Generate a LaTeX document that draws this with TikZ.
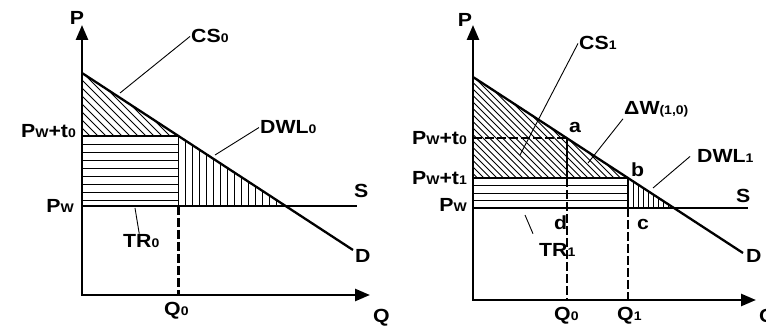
\documentclass[tikz,border=0pt]{standalone}
\usepackage{fontspec}
\setmainfont{Liberation Sans}[FakeStretch=1.12]
\usetikzlibrary{arrows.meta}
\newcommand{\sbs}[1]{{\fontsize{12.5}{12.5}\selectfont #1}}
\tikzset{
  axis/.style={line width=2.6pt, line join=miter,
    {Triangle[length=15pt,width=12pt]}-{Triangle[length=15pt,width=12pt]}},
  curve/.style={line width=2.3pt},
  level/.style={line width=1.8pt},
  guide/.style={line width=2.2pt, dash pattern=on 9pt off 3pt},
  hatch/.style={line width=0.8pt},
  leader/.style={line width=0.9pt},
  lbl/.style={font=\bfseries\fontsize{19}{22}\selectfont, inner sep=1pt},
}

\begin{document}
\begin{tikzpicture}[x=1pt, y=-1pt]
\useasboundingbox (0,0) rectangle (766,331);

% ---------------- left panel: tariff t0 ----------------
\coordinate (ptop0) at (82,25);
\coordinate (O0) at (82,295);
\coordinate (qend0) at (370,295);
\coordinate (dtop0) at (82,73);
\coordinate (dend0) at (353,250);
\coordinate (pt0) at (82,136);
\coordinate (pw0) at (82,206);
\coordinate (e0) at (178.5,136);
\coordinate (f0) at (178.5,206);
\coordinate (q0) at (178.5,295);
\coordinate (m0) at (285.6,206);
\coordinate (s0) at (357,206);

% hatching
\begin{scope}
  \clip (dtop0) -- (e0) -- (pt0) -- cycle;
  \foreach \c in {-70,-62,...,120} \draw[hatch] (\c,0) -- ++(300,300);
\end{scope}
\begin{scope}
  \clip (e0) -- (m0) -- (f0) -- cycle;
  \foreach \x in {185,192,...,285} \draw[hatch] (\x,130) -- (\x,210);
\end{scope}
\begin{scope}
  \clip (pt0) rectangle (f0);
  \foreach \y in {144,152,...,200} \draw[hatch] (80,\y) -- (180,\y);
\end{scope}

\draw[level] (pt0) -- (e0) -- (f0);
\draw[guide] (f0) -- (q0);
\draw[curve] (pw0) -- (s0);
\draw[curve] (dtop0) -- (dend0);
\draw[axis] (ptop0) -- (O0) -- (qend0);

\node[lbl, anchor=base] (p0) at (77,25) {P};
\node[lbl, anchor=base west] (q0lab) at (372,322) {Q};
\node[lbl, anchor=base west] (qa0) at (163,315) {Q\sbs{0}};
\node[lbl, anchor=base east] (lpt0) at (77,138) {P\sbs{W}+t\sbs{0}};
\node[lbl, anchor=base east] (lpw0) at (75,213) {P\sbs{W}};
\node[lbl, anchor=base west] (ls0) at (353,198) {S};
\node[lbl, anchor=base west] (ld0) at (354,263) {D};
\node[lbl, anchor=base west] (cs0) at (190,43) {CS\sbs{0}};
\node[lbl, anchor=base west] (dwl0) at (259,134) {DWL\sbs{0}};
\node[lbl, anchor=base west] (tr0) at (122,248) {TR\sbs{0}};

\coordinate (cs0pt) at (120,93);
\coordinate (dwl0pt) at (215,155);
\coordinate (tr0pt) at (135,208);
\draw[leader] (cs0pt) -- (cs0.west);
\draw[leader] (dwl0pt) -- (dwl0.west);
\draw[leader] (tr0pt) -- ([xshift=-2pt]tr0.north);

% ---------------- right panel: tariff t1 ----------------
\coordinate (ptop1) at (473,25);
\coordinate (O1) at (473,300);
\coordinate (qend1) at (756,300);
\coordinate (dtop1) at (473,77);
\coordinate (dend1) at (743,253);
\coordinate (pt01) at (473,138);
\coordinate (pt11) at (473,178);
\coordinate (pw1) at (473,208);
\coordinate (a) at (566.6,138);
\coordinate (a1) at (566.6,178);
\coordinate (b) at (628,178);
\coordinate (c) at (628,208);
\coordinate (q01) at (566.6,300);
\coordinate (q11) at (628,300);
\coordinate (m1) at (674,208);
\coordinate (s1) at (748,208);

% hatching
\begin{scope}
  \clip (dtop1) -- (b) -- (pt11) -- cycle;
  \foreach \c in {280,286.5,...,460} \draw[hatch] (\c,0) -- ++(300,300);
\end{scope}
\begin{scope}
  \clip (b) -- (m1) -- (c) -- cycle;
  \foreach \x in {633,638,...,673} \draw[hatch] (\x,170) -- (\x,212);
\end{scope}
\begin{scope}
  \clip (pt11) rectangle (c);
  \foreach \y in {185.5,193,200.5} \draw[hatch] (470,\y) -- (630,\y);
\end{scope}

\draw[guide] (pt01) -- (a);
\draw[level] (a) -- (a1);
\draw[guide] (a1) -- (q01);
\draw[level] (pt11) -- (b) -- (c);
\draw[guide] (c) -- (q11);
\draw[curve] (pw1) -- (s1);
\draw[curve] (dtop1) -- (dend1);
\draw[axis] (ptop1) -- (O1) -- (qend1);

\node[lbl, anchor=base] (p1) at (465,27) {P};
\node[lbl, anchor=base west] (q1lab) at (758,322) {Q};
\node[lbl, anchor=base west] (qa1) at (553,320) {Q\sbs{0}};
\node[lbl, anchor=base west] (qb1) at (616,320) {Q\sbs{1}};
\node[lbl, anchor=base east] (lpt01) at (468,145) {P\sbs{W}+t\sbs{0}};
\node[lbl, anchor=base east] (lpt11) at (468,185) {P\sbs{W}+t\sbs{1}};
\node[lbl, anchor=base east] (lpw1) at (468,212) {P\sbs{W}};
\node[lbl, anchor=base west] (ls1) at (735,203) {S};
\node[lbl, anchor=base west] (ld1) at (745,263) {D};
\node[lbl, anchor=base west] (la) at (568,133) {a};
\node[lbl, anchor=base west] (lb) at (630,177) {b};
\node[lbl, anchor=base west] (ld) at (553,230) {d};
\node[lbl, anchor=base west] (lc) at (636,230) {c};
\node[lbl, anchor=base west] (cs1) at (578,50) {CS\sbs{1}};
\node[lbl, anchor=base west] (dw) at (623,115) {ΔW\sbs{(1,0)}};
\node[lbl, anchor=base west] (dwl1) at (696,163) {DWL\sbs{1}};
\node[lbl, anchor=base west] (tr1) at (538,257) {TR\sbs{1}};

\coordinate (cs1pt) at (520,155);
\coordinate (dwpt) at (588,163);
\coordinate (dwl1pt) at (653,188);
\coordinate (tr1pt) at (525,215);
\draw[leader] (cs1pt) -- (cs1.west);
\draw[leader] (dwpt) -- (dw.south west);
\draw[leader] (dwl1pt) -- ([xshift=-6pt]dwl1.west);
\draw[leader] (tr1pt) -- ([xshift=-5pt,yshift=9pt]tr1.north west);
\end{tikzpicture}
\end{document}
